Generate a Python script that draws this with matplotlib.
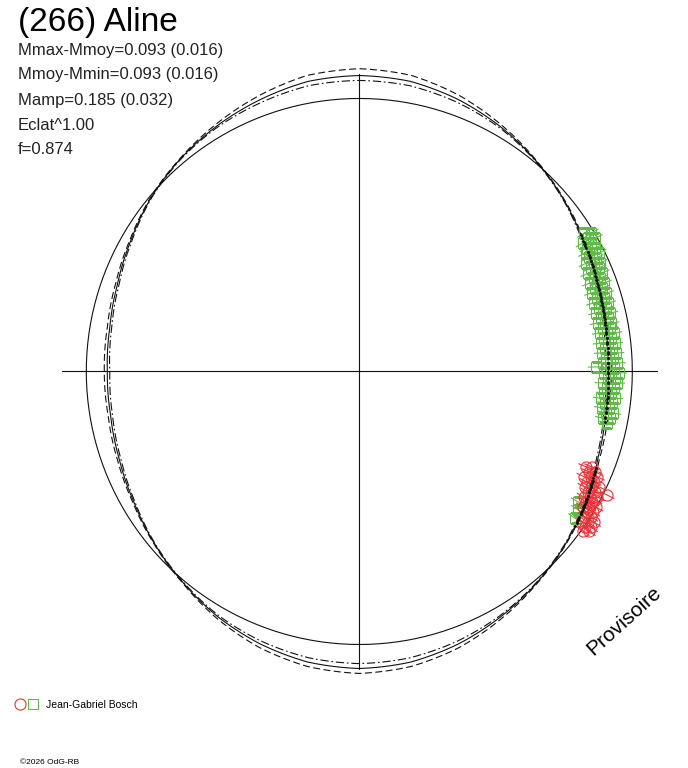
import numpy as np
import matplotlib
matplotlib.use('Agg')
import matplotlib.pyplot as plt
from matplotlib.legend_handler import HandlerTuple

# polar light curve of (266) Aline : angle = rotational phase, radius = flux / mean flux
plt.rcParams['font.family'] = ['Liberation Sans', 'DejaVu Sans']
plt.rcParams['lines.scale_dashes'] = False

title = '(266) Aline'
stats = ['Mmax-Mmoy=0.093 (0.016)',
         'Mmoy-Mmin=0.093 (0.016)',
         'Mamp=0.185 (0.032)',
         'Eclat^1.00',
         'f=0.874']
observer = 'Jean-Gabriel Bosch'
stamp = '\u00a92026 OdG-RB'
watermark = 'Provisoire'

# model curve (mean) and +/- sigma curves, read every 10 deg of phase
model_phase = [0, 10, 20, 30, 40, 50, 60, 70, 80, 90, 100, 110, 120, 130, 140, 150, 160, 170,
               180, 190, 200, 210, 220, 230, 240, 250, 260, 270, 280, 290, 300, 310, 320, 330, 340, 350]
model_mean = [0.912, 0.916, 0.929, 0.949, 0.978, 1.007, 1.035, 1.060, 1.079, 1.084, 1.079, 1.060,
              1.040, 1.018, 0.994, 0.965, 0.942, 0.928, 0.923, 0.925, 0.936, 0.954, 0.980, 1.007,
              1.037, 1.062, 1.081, 1.088, 1.081, 1.062, 1.037, 1.011, 0.985, 0.956, 0.930, 0.916]
model_high = [0.923, 0.925, 0.935, 0.953, 0.980, 1.009, 1.042, 1.075, 1.101, 1.109, 1.101, 1.075,
              1.047, 1.020, 0.996, 0.969, 0.949, 0.937, 0.934, 0.934, 0.943, 0.958, 0.982, 1.009,
              1.044, 1.075, 1.097, 1.106, 1.097, 1.075, 1.044, 1.013, 0.987, 0.960, 0.936, 0.925]
model_low = [0.903, 0.909, 0.923, 0.945, 0.976, 1.005, 1.030, 1.049, 1.063, 1.066, 1.063, 1.049,
             1.035, 1.016, 0.992, 0.961, 0.936, 0.921, 0.914, 0.918, 0.930, 0.950, 0.978, 1.005,
             1.032, 1.051, 1.065, 1.070, 1.065, 1.051, 1.032, 1.009, 0.983, 0.952, 0.925, 0.909]
mean_level = 1.0
axis_len = 1.09

# observations (phase in deg, relative flux)
green_phase = [31.6, 30.8, 30.3, 29.4, 29.9, 29.0, 28.5, 27.6, 27.7, 27.0, 26.3, 26.4, 25.6, 25.5,
               24.9, 24.3, 24.1, 23.4, 23.2, 22.7, 22.1, 21.8, 21.2, 21.0, 20.4, 19.9, 19.5, 19.0,
               18.7, 18.1, 17.6, 17.2, 16.7, 16.3, 15.8, 15.4, 14.9, 14.4, 13.9, 13.5, 13.1, 12.5,
               12.1, 11.5, 11.2, 10.8, 10.1, 9.8, 9.1, 8.8, 8.6, 7.8, 7.6, 6.7, 6.5, 6.3, 5.5, 5.3,
               4.4, 4.2, 4.1, 3.1, 3.0, 2.0, 1.9, 1.9, 1.1, 0.8, 0.7, -0.4, -0.3, -0.3, -1.5, -1.4,
               -2.7, -2.6, -2.5, -3.8, -3.7, -5.0, -4.9, -6.3, -6.1, -5.9, -7.3, -7.1, -8.5, -8.3,
               -9.5, -9.3, -10.8, -10.5, -11.7, -30.8, -32.3, -34.2]
green_flux = [0.967, 0.990, 0.970, 0.993, 0.945, 0.972, 0.949, 0.975, 0.936, 0.956, 0.979, 0.939,
              0.962, 0.921, 0.946, 0.967, 0.930, 0.955, 0.912, 0.936, 0.959, 0.924, 0.946, 0.905,
              0.929, 0.953, 0.914, 0.940, 0.900, 0.926, 0.948, 0.911, 0.936, 0.896, 0.920, 0.945,
              0.908, 0.933, 0.894, 0.918, 0.943, 0.907, 0.932, 0.892, 0.917, 0.940, 0.907, 0.932,
              0.893, 0.918, 0.944, 0.905, 0.930, 0.891, 0.917, 0.942, 0.904, 0.930, 0.892, 0.917,
              0.943, 0.905, 0.931, 0.893, 0.919, 0.946, 0.867, 0.907, 0.933, 0.896, 0.922, 0.950,
              0.911, 0.937, 0.893, 0.919, 0.945, 0.909, 0.935, 0.900, 0.925, 0.891, 0.916, 0.942,
              0.907, 0.933, 0.899, 0.924, 0.916, 0.942, 0.909, 0.934, 0.927, 0.933, 0.948, 0.955]
red_phase = [-22.8, -22.3, -23.6, -23.1, -25.1, -24.5, -23.9, -25.9, -25.2, -27.1, -26.5, -25.7,
             -27.8, -27.1, -29.2, -28.5, -27.8, -29.3, -29.9, -30.5, -29.8, -31.2, -31.7, -31.0,
             -32.8, -32.1, -34.0, -33.4, -32.7, -34.6, -33.9, -35.5, -34.8, -26.5, -26.0, -31.1, -28.6]
red_flux = [0.901, 0.921, 0.918, 0.939, 0.909, 0.933, 0.953, 0.927, 0.950, 0.929, 0.948, 0.975,
            0.947, 0.970, 0.943, 0.962, 0.985, 0.977, 0.958, 0.977, 0.999, 0.958, 0.980, 0.999,
            0.984, 1.002, 0.985, 1.003, 1.021, 1.004, 1.022, 1.006, 1.024, 1.014, 0.948, 0.983, 0.983]
flux_err = 0.03

green = '#5fba47'
red = '#ec3237'
ink = '#111111'

fig = plt.figure(figsize=(6.88, 7.68), dpi=100)
ax = fig.add_axes([0.0659, 0.1075, 0.9127, 0.8176], projection='polar')
ax.set_ylim(0, 1.15)
ax.axis('off')

# axis cross
for a in [0, 90, 180, 270]:
    ax.plot([np.deg2rad(a)] * 2, [0, axis_len], color=ink, lw=0.8)

th = np.deg2rad(model_phase + [360])
ring = np.linspace(0, 2 * np.pi, 361)
ax.plot(ring, np.full(ring.shape, mean_level), color=ink, lw=0.8)
curves = [
    ax.plot(th, model_mean + model_mean[:1], color=ink, lw=0.8)[0],
    ax.plot(th, model_high + model_high[:1], color=ink, lw=0.8, dashes=(5, 2.5))[0],
    ax.plot(th, model_low + model_low[:1], color=ink, lw=0.8, dashes=(6, 2, 1.2, 2))[0],
]
# let the polar transform follow the curve between the read points
for c in curves:
    c.get_path()._interpolation_steps = 20

gt = np.deg2rad(green_phase)
rt = np.deg2rad(red_phase)
ax.errorbar(gt, green_flux, yerr=flux_err, fmt='none', ecolor=green, elinewidth=0.8, capsize=0)
sq, = ax.plot(gt, green_flux, ls='none', marker='s', ms=7, mfc='none', mec=green, mew=0.8)
ax.errorbar(rt, red_flux, yerr=flux_err, fmt='none', ecolor=red, elinewidth=0.8, capsize=0)
ci, = ax.plot(rt, red_flux, ls='none', marker='o', ms=8, mfc='none', mec=red, mew=0.8)

# model value at each observed phase
all_phase = np.array(green_phase + red_phase)
model_at_obs = np.interp(all_phase, model_phase, model_mean, period=360)
ax.plot(np.deg2rad(all_phase), model_at_obs, ls='none', marker='.', ms=2, color=ink)

fig.text(18 / 688, 1 - 22 / 768, title, fontsize=24, va='center')
for i, s in enumerate(stats):
    fig.text(18 / 688, 1 - (50 + 25 * i) / 768, s, fontsize=12, va='center', color='#222222')

fig.legend([(ci, sq)], [observer], handler_map={tuple: HandlerTuple(ndivide=None, pad=0.3)},
           loc='center left', bbox_to_anchor=(15 / 688, 1 - 705 / 768), frameon=False,
           fontsize=7.5, handlelength=2.2, handletextpad=0.8, borderpad=0, borderaxespad=0)

fig.text(624 / 688, 1 - 621 / 768, watermark, fontsize=15, rotation=42, ha='center', va='center')
fig.text(20 / 688, 1 - 763 / 768, stamp, fontsize=6, va='center')

fig.savefig('out.png', dpi=100)
